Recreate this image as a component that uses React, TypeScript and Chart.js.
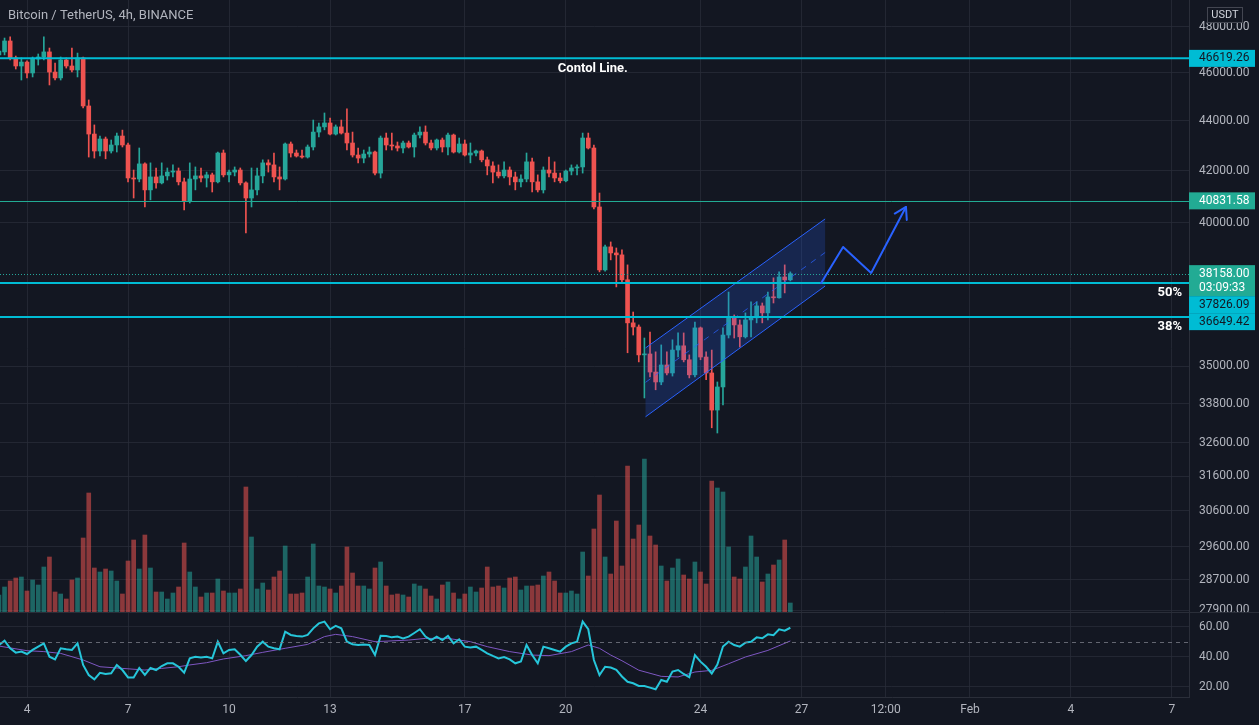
import React, { useEffect, useRef } from 'react';
import { Chart, registerables } from 'chart.js';

Chart.register(...registerables);

// ---------- data (4h bars, index 0 = 4 Jan 00:00) ----------
const FIRST_BAR = -5;

const opens = [
  46770, 46900, 47380, 46640, 46290, 46460, 45990, 46590, 46680, 46900,
  46030, 45780, 46550, 46290, 46120, 46640, 44600, 43450, 42770, 43250,
  42770, 43010, 43370, 43010, 41710, 41670, 42260, 41250, 41750, 41520,
  41790, 41940, 41980, 41560, 40830, 41670, 41790, 41710, 41830, 41560,
  42690, 41830, 41940, 42020, 41520, 40940, 41250, 41790, 42300, 42220,
  41750, 41670, 43050, 42690, 42570, 42530, 42930, 43530, 43740, 43900,
  43450, 43740, 43490, 43090, 42610, 42490, 42650, 42730, 41900, 43290,
  43010, 42970, 42890, 43090, 42930, 43410, 43530, 43090, 42890, 43210,
  42930, 43410, 42730, 43050, 42610, 42690, 42770, 42420, 42180, 41940,
  41790, 42020, 41750, 41560, 41670, 42340, 41560, 41250, 42020, 41900,
  41710, 41600, 41980, 42100, 42140, 43290, 42890, 40600, 38290, 39120,
  38900, 38830, 37940, 36450, 36310, 35380, 35410, 34820, 34500, 35050,
  34790, 35540, 35680, 35220, 34730, 36280, 35310, 34790, 33610, 34340,
  36040, 36650, 36380, 35980, 36550, 36620, 37030, 36790, 37340, 37310, 38040, 37940,
];
const highs = [
  47070, 47510, 47560, 46720, 46640, 46510, 46680, 46810, 47560, 47070,
  46420, 46680, 46640, 47070, 46850, 46680, 44850, 43820, 43370, 43330,
  43210, 43490, 43610, 43090, 42020, 42890, 42300, 42300, 42100, 42300,
  42100, 42220, 42100, 41710, 42300, 42140, 42100, 41940, 41900, 42730,
  42810, 42020, 42140, 42100, 41560, 42100, 42100, 42420, 42420, 42690,
  42140, 43090, 43130, 42810, 42810, 43010, 44020, 43900, 44310, 44100,
  43820, 44020, 44480, 43530, 42890, 42810, 42930, 42770, 43370, 43490,
  43490, 43130, 43170, 43170, 43490, 43740, 43780, 43210, 43250, 43290,
  43490, 43450, 43290, 43210, 43090, 42810, 42810, 42530, 42340, 42220,
  42340, 42140, 41940, 41830, 42690, 42490, 41830, 42140, 42530, 42340,
  41900, 42020, 42220, 42220, 43490, 43490, 43010, 41130, 39190, 39300,
  39080, 39010, 38470, 36820, 36380, 35940, 36140, 35480, 35710, 35480,
  35880, 36110, 36110, 35380, 36480, 36310, 35480, 35540, 34500, 36280,
  37510, 36720, 36550, 36790, 37170, 37170, 37130, 37510, 38010, 38220, 38470, 38220,
];
const lows = [
  46720, 46770, 46550, 46160, 45690, 45780, 45820, 46330, 46550, 45480,
  45690, 45690, 46200, 46030, 45820, 44520, 42530, 42490, 42570, 42460,
  42690, 42730, 42930, 41560, 40940, 41560, 40600, 40870, 41320, 41480,
  41630, 41750, 41440, 40490, 40750, 41250, 41560, 41360, 41170, 41520,
  41750, 41560, 41790, 41440, 39630, 40600, 41060, 41520, 41940, 41560,
  41250, 41630, 42530, 42530, 42490, 42490, 42810, 43330, 43620, 43410,
  43410, 43450, 42810, 42530, 42300, 42300, 42530, 41830, 41710, 42810,
  42810, 42770, 42690, 42890, 42530, 43290, 43010, 42810, 42810, 42730,
  42610, 42690, 42690, 42570, 42300, 42570, 42340, 41830, 41520, 41710,
  41710, 41440, 41250, 41360, 41560, 41170, 41170, 41130, 41750, 41560,
  41520, 41560, 41830, 41830, 41900, 42850, 40530, 38220, 38250, 38650,
  37690, 37870, 35450, 36040, 35150, 33990, 34660, 34250, 34410, 34730,
  34690, 35310, 35150, 34630, 34660, 35220, 34570, 33060, 32900, 33770,
  35940, 35940, 35640, 35940, 35980, 36450, 36450, 36550, 37130, 37300, 37480, 37900,
];
const closes = [
  46940, 47380, 46640, 46290, 46460, 45990, 46590, 46680, 46900, 46030,
  45780, 46550, 46290, 46120, 46640, 44600, 43450, 42770, 43250, 42770,
  43010, 43370, 43010, 41710, 41670, 42260, 41250, 41750, 41520, 41790,
  41940, 41980, 41560, 40830, 41670, 41790, 41710, 41830, 41560, 42690,
  41830, 41940, 42020, 41520, 40940, 41250, 41790, 42300, 42220, 41750,
  41670, 43050, 42690, 42570, 42530, 42930, 43530, 43740, 43900, 43450,
  43740, 43490, 43090, 42610, 42490, 42650, 42730, 41900, 43290, 43010,
  42970, 42890, 43090, 42930, 43410, 43530, 43090, 42890, 43210, 42930,
  43410, 42730, 43050, 42610, 42690, 42770, 42420, 42180, 41940, 41790,
  42020, 41750, 41560, 41670, 42340, 41560, 41250, 42020, 41900, 41710,
  41600, 41980, 42100, 42140, 43290, 42890, 40600, 38290, 39120, 38900,
  38830, 37940, 36450, 36310, 35380, 35410, 34820, 34500, 35050, 34790,
  35540, 35680, 35220, 34730, 36280, 35310, 34790, 33610, 34340, 36040,
  36650, 36380, 35980, 36550, 36620, 37030, 36790, 37340, 37310, 38040, 37940, 38158,
];
const volumes = [
  5100, 7500, 9300, 10200, 10500, 6300, 9600, 8100, 13500, 16500,
  6000, 5400, 3900, 9600, 10200, 22200, 35700, 13200, 12000, 12900,
  12300, 9300, 5400, 15300, 21600, 12900, 23100, 13200, 6000, 6000,
  3900, 5700, 7500, 20700, 12000, 7500, 4500, 5700, 5700, 9900,
  6300, 5700, 5700, 6900, 37500, 22500, 6900, 8700, 6600, 10500,
  12300, 19800, 5400, 5400, 5700, 10500, 20400, 7800, 7500, 6900,
  5700, 7800, 19500, 11700, 7800, 7800, 6900, 13200, 15000, 7800,
  5100, 5400, 5100, 4500, 8400, 7800, 6900, 4800, 3900, 8100,
  9000, 5700, 3900, 5400, 7500, 6000, 7200, 13500, 7500, 7800,
  7200, 10200, 10500, 6600, 7800, 7800, 8100, 10800, 12000, 9300,
  5700, 5700, 6300, 5400, 18000, 10800, 24900, 35100, 16500, 11400,
  27300, 13800, 43800, 21900, 26100, 45900, 22800, 20100, 13800, 9300,
  13200, 15900, 11100, 9900, 15000, 12000, 8400, 39300, 37200, 36000,
  19500, 10500, 9900, 13500, 22800, 16500, 9000, 11400, 14100, 15600, 21600, 2700,
];
const rsi = [
  48, 50.9, 45.8, 42.9, 43.6, 42, 44.7, 46.9, 49.1, 40.2,
  38.4, 45.8, 45.1, 44.7, 49.1, 34.7, 28, 25.1, 29.5, 28.7,
  29.1, 34.7, 31.3, 26.4, 26.4, 32.7, 28, 32.7, 31.3, 34,
  35.8, 35.8, 33.5, 29.5, 39.1, 40.2, 39.6, 40.2, 39.1, 50.2,
  42.4, 44.7, 45.1, 41.5, 37.3, 41.3, 46.9, 50.2, 46.9, 45.8,
  45.1, 56.9, 54.7, 54, 53.6, 54.7, 59.1, 62.4, 63.6, 58.5,
  60.7, 59.1, 50.2, 48.5, 48, 48.4, 48, 41.3, 54.2, 54,
  53.1, 53.6, 52.4, 53.6, 56, 58.5, 53.6, 51.3, 53.6, 51.3,
  54, 49.1, 51.8, 46.9, 46.4, 46.9, 44.7, 42.4, 40.7, 39.1,
  40, 38.4, 35.8, 37, 48, 41.3, 35.8, 46.9, 45.8, 44.7,
  43.6, 46.9, 49.1, 50.2, 63.6, 58.5, 38, 28, 33.5, 33,
  31.5, 27, 23.5, 22.5, 20.7, 20.7, 19.6, 18.5, 24.7, 23.5,
  30.3, 31.3, 28.7, 26.5, 41.3, 36.9, 33.5, 29, 35, 47,
  50.2, 48, 46.9, 49.6, 50.2, 53.1, 52.5, 55.1, 54.5, 58.4, 57.5, 59.5,
];
const rsiMaBars = [-5, 0, 3, 6, 10, 13, 17, 21, 24, 27, 29, 32, 35, 39, 42, 46, 50, 53, 55, 58, 62, 68, 71, 75, 79, 82, 86, 90, 93, 97, 100, 102, 104, 106, 109, 113, 116, 119, 122, 125, 128, 132, 136];
const rsiMa = [47.3, 44.2, 43.6, 42.4, 38, 33.5, 32.4, 31.3, 32.4, 33.5, 34.7, 36.2, 38.7, 40.9, 43.1, 45.8, 48.4, 53.6, 55.1, 53.6, 50.2, 51.3, 52.4, 52.4, 50.2, 46.9, 43.6, 41.3, 40.9, 43.6, 48, 45.8, 41.3, 37.5, 31.2, 27.1, 26.7, 30, 31.1, 35.5, 40, 44.4, 50.7];

const xTickBars = [0, 18, 36, 54, 78, 96, 120, 138, 153, 168, 186, 204];
const xTickLabels = ['4', '7', '10', '13', '17', '20', '24', '27', '12:00', 'Feb', '4', '7'];
const priceTicks = [27900, 28700, 29600, 30600, 31600, 32600, 33800, 35000, 40000, 42000, 44000, 46000, 48000];
const rsiTicks = [20, 40, 60];

const cyanLevels = [46619.26, 37826.09, 36649.42];
const greenLevel = 40831.58;
const lastPrice = 38158.0;
const countdown = '03:09:33';
const fibLabels = ['50%', '38%'];
const noteText = 'Contol Line.';
const noteBar = 100.8;
const titleText = 'Bitcoin / TetherUS, 4h, BINANCE';
const currencyText = 'USDT';

const channelBars = [110.2, 142.2];
const channelUpper = [35610, 40150];
const channelLower = [33400, 37720];
const arrowBars = [141.5, 145.4, 150.4, 156.6];
const arrowPrices = [37830, 39118, 38184, 40601];

// ---------- view ----------
const BAR_MIN = -4.811;
const BAR_MAX = 207.03;
const PRICE_MIN = 27853;
const PRICE_MAX = 49221;
const RSI_MIN = 13.33;
const RSI_MAX = 70;
const VOL_MIN = -25500;
const VOL_MAX = 183600;

const BG = '#131722';
const GRID = 'rgba(42,46,57,0.75)';
const BORDER = '#2a2e39';
const TEXT = '#b2b5be';
const UP = '#26a69a';
const DOWN = '#ef5350';
const UP_VOL = 'rgba(38,166,154,0.55)';
const DOWN_VOL = 'rgba(239,83,80,0.55)';
const CYAN = '#00bcd4';
const TAG_GREEN = '#22ab94';
const BLUE = '#2962ff';
const FONT = 'Roboto, "Noto Sans", sans-serif';

const bars = opens.map((_, k) => FIRST_BAR + k);
const isUp = opens.map((o, k) => closes[k] >= o);

function line(ctx: CanvasRenderingContext2D, x0: number, y0: number, x1: number, y1: number) {
  ctx.beginPath();
  ctx.moveTo(x0, y0);
  ctx.lineTo(x1, y1);
  ctx.stroke();
}

const drawings = {
  id: 'drawings',
  afterDatasetsDraw(chart: any) {
    const { ctx, chartArea } = chart;
    const xs = chart.scales.x;
    const ys = chart.scales.y;
    const yr = chart.scales.yR;
    const px = (b: number) => xs.getPixelForValue(b);
    const py = (p: number) => ys.getPixelForValue(p);

    ctx.save();
    ctx.beginPath();
    ctx.rect(chartArea.left, ys.top, chartArea.right - chartArea.left, ys.bottom - ys.top);
    ctx.clip();

    // parallel channel
    const x0 = px(channelBars[0]);
    const x1 = px(channelBars[1]);
    const u0 = py(channelUpper[0]);
    const u1 = py(channelUpper[1]);
    const l0 = py(channelLower[0]);
    const l1 = py(channelLower[1]);
    ctx.fillStyle = 'rgba(41,98,255,0.2)';
    ctx.beginPath();
    ctx.moveTo(x0, u0);
    ctx.lineTo(x1, u1);
    ctx.lineTo(x1, l1);
    ctx.lineTo(x0, l0);
    ctx.closePath();
    ctx.fill();
    ctx.strokeStyle = BLUE;
    ctx.lineWidth = 1;
    line(ctx, x0, u0, x1, u1);
    line(ctx, x0, l0, x1, l1);
    ctx.setLineDash([6, 6]);
    ctx.strokeStyle = 'rgba(41,98,255,0.75)';
    line(ctx, x0, (u0 + l0) / 2, x1, (u1 + l1) / 2);
    ctx.setLineDash([]);

    // horizontal levels
    const L = chartArea.left;
    const R = chartArea.right;
    ctx.strokeStyle = CYAN;
    ctx.lineWidth = 2;
    cyanLevels.forEach((v) => line(ctx, L, py(v), R, py(v)));
    ctx.strokeStyle = TAG_GREEN;
    ctx.lineWidth = 1;
    line(ctx, L, Math.round(py(greenLevel)) + 0.5, R, Math.round(py(greenLevel)) + 0.5);
    ctx.setLineDash([1, 2]);
    ctx.strokeStyle = UP;
    line(ctx, L, Math.round(py(lastPrice)) + 0.5, R, Math.round(py(lastPrice)) + 0.5);
    ctx.setLineDash([]);

    // arrow path
    ctx.strokeStyle = BLUE;
    ctx.lineWidth = 2;
    ctx.lineJoin = 'round';
    ctx.lineCap = 'round';
    ctx.beginPath();
    arrowBars.forEach((b, k) => {
      const X = px(b);
      const Y = py(arrowPrices[k]);
      if (k === 0) ctx.moveTo(X, Y);
      else ctx.lineTo(X, Y);
    });
    ctx.stroke();
    const n = arrowBars.length;
    const tx = px(arrowBars[n - 1]);
    const ty = py(arrowPrices[n - 1]);
    const ang = Math.atan2(ty - py(arrowPrices[n - 2]), tx - px(arrowBars[n - 2]));
    ctx.beginPath();
    ctx.moveTo(tx + 13 * Math.cos(ang + Math.PI - 0.55), ty + 13 * Math.sin(ang + Math.PI - 0.55));
    ctx.lineTo(tx, ty);
    ctx.lineTo(tx + 13 * Math.cos(ang + Math.PI + 0.55), ty + 13 * Math.sin(ang + Math.PI + 0.55));
    ctx.stroke();

    // texts
    ctx.fillStyle = '#ffffff';
    ctx.font = 'bold 13px ' + FONT;
    ctx.textBaseline = 'middle';
    ctx.textAlign = 'center';
    ctx.fillText(noteText, px(noteBar), py(cyanLevels[0]) + 10);
    ctx.textAlign = 'right';
    ctx.fillText(fibLabels[0], R - 7, py(cyanLevels[1]) + 10);
    ctx.fillText(fibLabels[1], R - 7, py(cyanLevels[2]) + 10);
    ctx.restore();

    // RSI middle dashed line
    ctx.save();
    ctx.strokeStyle = 'rgba(120,123,134,0.8)';
    ctx.lineWidth = 1;
    ctx.setLineDash([4, 4]);
    const y50 = Math.round(yr.getPixelForValue(50)) + 0.5;
    line(ctx, L, y50, R, y50);
    ctx.setLineDash([]);
    ctx.strokeStyle = BORDER;
    line(ctx, 0, Math.round(ys.bottom) + 0.5, chart.width, Math.round(ys.bottom) + 0.5);
    ctx.restore();
  },
  afterDraw(chart: any) {
    const { ctx } = chart;
    const ys = chart.scales.y;
    const yr = chart.scales.yR;
    const ax = ys.left;
    ctx.save();
    ctx.font = '12px ' + FONT;
    ctx.textBaseline = 'middle';
    ctx.textAlign = 'left';
    ctx.fillStyle = TEXT;
    ctx.save();
    ctx.beginPath();
    ctx.rect(ax, ys.top, chart.width - ax, ys.bottom - ys.top);
    ctx.clip();
    priceTicks.forEach((v) => ctx.fillText(v.toFixed(2), ax + 10, ys.getPixelForValue(v)));
    ctx.restore();
    rsiTicks.forEach((v) => ctx.fillText(v.toFixed(2), ax + 10, yr.getPixelForValue(v)));

    // price tags
    const tags = [
      { value: cyanLevels[0], lines: [cyanLevels[0].toFixed(2)], bg: CYAN, fg: BG },
      { value: greenLevel, lines: [greenLevel.toFixed(2)], bg: TAG_GREEN, fg: '#ffffff' },
      { value: lastPrice, lines: [lastPrice.toFixed(2), countdown], bg: TAG_GREEN, fg: '#ffffff' },
      { value: cyanLevels[1], lines: [cyanLevels[1].toFixed(2)], bg: CYAN, fg: BG },
      { value: cyanLevels[2], lines: [cyanLevels[2].toFixed(2)], bg: CYAN, fg: BG },
    ]
      .map((t) => ({ ...t, y: ys.getPixelForValue(t.value) }))
      .sort((a, b) => a.y - b.y);
    let prevBottom = -1e9;
    tags.forEach((t) => {
      const h = t.lines.length === 1 ? 17 : 31;
      const top = Math.max(t.y - 8.5, prevBottom);
      ctx.fillStyle = t.bg;
      ctx.fillRect(ax, top, 66, h);
      ctx.fillStyle = t.fg;
      t.lines.forEach((s, k) => ctx.fillText(s, ax + 10, top + 8.5 + k * 14));
      prevBottom = top + h;
    });

    // currency box
    ctx.fillStyle = BG;
    ctx.fillRect(1207, 7, 36, 16);
    ctx.strokeStyle = '#434651';
    ctx.lineWidth = 1;
    ctx.strokeRect(1207.5, 7.5, 35, 15);
    ctx.fillStyle = '#d1d4dc';
    ctx.font = '11px ' + FONT;
    ctx.textAlign = 'center';
    ctx.fillText(currencyText, 1225, 15.5);

    // title
    ctx.font = '13px ' + FONT;
    ctx.textAlign = 'left';
    ctx.fillStyle = TEXT;
    ctx.fillText(titleText, 8, 16);
    ctx.restore();
  },
};

export default function App() {
  const ref = useRef<HTMLCanvasElement>(null);
  useEffect(() => {
    const canvas = ref.current;
    if (!canvas) return;
    Chart.defaults.font.family = FONT;
    const volData = bars.map((b, k) => ({ x: b, y: volumes[k] }));
    const wickData = bars.map((b, k) => ({ x: b, y: [lows[k], highs[k]] }));
    const bodyData = bars.map((b, k) => ({ x: b, y: [opens[k], closes[k]] }));
    const rsiData = bars.map((b, k) => ({ x: b, y: rsi[k] }));
    const maData = rsiMaBars.map((b, k) => ({ x: b, y: rsiMa[k] }));
    const candleColors = isUp.map((u) => (u ? UP : DOWN));
    const volColors = isUp.map((u) => (u ? UP_VOL : DOWN_VOL));

    const chart = new Chart(canvas, {
      type: 'bar',
      data: {
        datasets: [
          { type: 'bar', label: 'Volume', data: volData as any, xAxisID: 'x', yAxisID: 'yV', backgroundColor: volColors, barThickness: 4, grouped: false, order: 6 } as any,
          { type: 'bar', label: 'Wick', data: wickData as any, xAxisID: 'x', yAxisID: 'y', backgroundColor: candleColors, barThickness: 1, grouped: false, order: 5 } as any,
          { type: 'bar', label: 'Body', data: bodyData as any, xAxisID: 'x', yAxisID: 'y', backgroundColor: candleColors, barThickness: 4, minBarLength: 1, grouped: false, order: 4 } as any,
          { type: 'line', label: 'RSI MA', data: maData as any, xAxisID: 'x', yAxisID: 'yR', borderColor: '#7e57c2', borderWidth: 1, pointRadius: 0, tension: 0, order: 2 } as any,
          { type: 'line', label: 'RSI', data: rsiData as any, xAxisID: 'x', yAxisID: 'yR', borderColor: '#26c6da', borderWidth: 2, pointRadius: 0, tension: 0, order: 1 } as any,
        ],
      },
      options: {
        responsive: false,
        animation: false,
        devicePixelRatio: 1,
        events: [],
        layout: { padding: 0 },
        plugins: { legend: { display: false }, tooltip: { enabled: false }, title: { display: false } },
        scales: {
          x: {
            type: 'linear',
            min: BAR_MIN,
            max: BAR_MAX,
            bounds: 'data',
            offset: false,
            grid: { color: GRID, drawTicks: false, offset: false },
            border: { display: true, color: BORDER },
            ticks: {
              autoSkip: false,
              maxRotation: 0,
              padding: 6,
              color: TEXT,
              font: { size: 12 },
              callback: (v: any) => {
                const k = xTickBars.indexOf(Number(v));
                return k >= 0 ? xTickLabels[k] : '';
              },
            },
            afterBuildTicks: (s: any) => {
              s.ticks = xTickBars.map((v) => ({ value: v }));
            },
            afterFit: (s: any) => {
              s.height = 28;
            },
          },
          y: {
            type: 'logarithmic',
            position: 'right',
            stack: 'panes',
            stackWeight: 612,
            min: PRICE_MIN,
            max: PRICE_MAX,
            bounds: 'data',
            beginAtZero: false,
            grid: { color: GRID, drawTicks: false },
            border: { display: true, color: BORDER },
            ticks: { display: false },
            afterBuildTicks: (s: any) => {
              s.ticks = priceTicks.map((v) => ({ value: v }));
            },
            afterFit: (s: any) => {
              s.width = 70;
            },
          },
          yR: {
            type: 'linear',
            position: 'right',
            stack: 'panes',
            stackWeight: 85,
            min: RSI_MIN,
            max: RSI_MAX,
            bounds: 'data',
            beginAtZero: false,
            grid: { color: GRID, drawTicks: false },
            border: { display: true, color: BORDER },
            ticks: { display: false },
            afterBuildTicks: (s: any) => {
              s.ticks = rsiTicks.map((v) => ({ value: v }));
            },
            afterFit: (s: any) => {
              s.width = 70;
            },
          },
          yV: {
            type: 'linear',
            position: 'left',
            display: false,
            min: VOL_MIN,
            max: VOL_MAX,
            bounds: 'data',
            beginAtZero: false,
          },
        } as any,
      },
      plugins: [drawings as any],
    });
    return () => chart.destroy();
  }, []);

  return (
    <div style={{ position: 'fixed', left: 0, top: 0, width: 1259, height: 725, background: BG, overflow: 'hidden' }}>
      <canvas ref={ref} width={1259} height={725} style={{ display: 'block', width: 1259, height: 725 }} />
    </div>
  );
}
